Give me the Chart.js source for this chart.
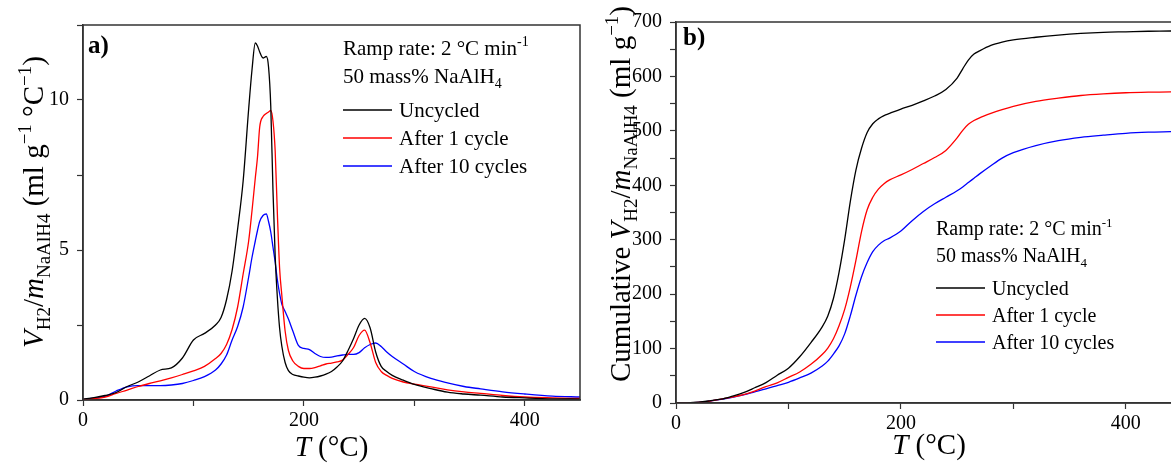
<!DOCTYPE html>
<html>
<head>
<meta charset="utf-8">
<script src="https://cdn.jsdelivr.net/npm/chart.js@4"></script>
<style>
  html, body { margin: 0; padding: 0; background: #fff; overflow: hidden; width: 1171px; height: 463px; }
  canvas { position: absolute; top: 0; }
</style>
</head>
<body>
<canvas id="rate" width="590" height="463" style="left:0"></canvas>
<canvas id="cumulative" width="600" height="463" style="left:590px"></canvas>
<script>
// series names and colours
var seriesLabels = ['Uncycled', 'After 1 cycle', 'After 10 cycles'];
var seriesColors = ['#000000', '#ff0000', '#0000ff'];

// a) desorption rate, ml g-1 °C-1
var tempRate = [0,10,20,30,40,50,60,70,80,90,100,110,120,125,130,135,140,145,150,153,156,158,160,163,166,168,170,172,174,176,178,180,183,186,190,195,200,205,210,215,220,225,230,235,240,245,250,255,260,265,270,275,280,290,300,315,330,345,360,380,400,425,450];
var uncycledRate = [0.03,0.08,0.15,0.25,0.45,0.6,0.8,1.0,1.07,1.4,2.0,2.22,2.5,2.75,3.35,4.3,5.7,7.3,9.7,11.0,11.9,11.8,11.6,11.4,11.45,11.1,9.8,7.0,4.8,3.4,2.4,1.8,1.25,0.98,0.85,0.8,0.76,0.74,0.76,0.8,0.86,0.95,1.1,1.3,1.65,2.05,2.5,2.72,2.4,1.6,1.12,0.95,0.82,0.66,0.52,0.38,0.26,0.2,0.16,0.1,0.07,0.04,0.03];
var cycle1Rate = [0.02,0.05,0.1,0.22,0.33,0.45,0.55,0.64,0.74,0.85,0.97,1.12,1.38,1.55,1.85,2.35,3.1,4.2,5.3,6.3,7.4,8.1,9.1,9.45,9.55,9.6,9.65,9.3,8.3,6.2,4.4,3.5,2.3,1.65,1.3,1.12,1.05,1.05,1.08,1.14,1.2,1.23,1.27,1.33,1.52,1.75,2.15,2.33,1.9,1.25,0.95,0.82,0.72,0.6,0.53,0.44,0.34,0.27,0.22,0.15,0.1,0.07,0.05];
var cycle10Rate = [0.02,0.06,0.12,0.3,0.44,0.48,0.48,0.48,0.5,0.55,0.65,0.78,1.0,1.2,1.5,2.0,2.45,3.1,4.1,4.75,5.3,5.65,5.95,6.15,6.2,5.95,5.6,5.1,4.6,4.0,3.55,3.2,2.95,2.7,2.3,1.82,1.72,1.68,1.55,1.45,1.42,1.43,1.47,1.5,1.52,1.52,1.58,1.74,1.85,1.9,1.78,1.6,1.45,1.2,0.95,0.72,0.57,0.45,0.37,0.27,0.2,0.13,0.1];

// b) cumulative hydrogen, ml g-1
var tempCum = [0,10,20,30,40,50,60,70,80,90,100,110,120,130,135,140,145,150,155,160,165,170,175,180,185,190,200,210,220,230,240,250,255,260,265,270,280,290,300,320,340,360,380,400,420,440,450];
var uncycledCum = [0,0.3,1.5,4,7,12.5,19,28,37.5,51,64,85,111,140,160,192,240,300,370,428,468,497,513,522,528,532,540,547,555,564,576,597,614,630,641,647,657,663,667,672,676,679,681,682,683,683.5,684];
var cycle1Cum = [0,0.3,1.3,3.5,7,11,15.5,22,30,37,47,57,71,89,101,118,142,172,213,262,315,355,378,393,403,410,419,429,440,451,464,487,501,512,519,524,532,539,545,554,560,565,568,570,571,571.5,572];
var cycle10Cum = [0,0.3,1.3,3.5,6.5,10.5,15,20.5,26,32,38,46,55,68,77,90,105,127,160,198,232,258,278,290,298,303,316,335,352,366,378,390,397,405,413,421,436,450,460,473,482,488,492,495.5,497.5,498.5,499];

var FONT = '"Liberation Serif", "Times New Roman", serif';

function points(xs, ys) {
  return xs.map(function(x, i) { return {x: x, y: ys[i]}; });
}

function makeDatasets(xs, list) {
  return list.map(function(ys, i) {
    return {
      label: seriesLabels[i],
      data: points(xs, ys),
      borderColor: seriesColors[i],
      backgroundColor: seriesColors[i],
      borderWidth: 1.3,
      pointRadius: 0,
      cubicInterpolationMode: 'monotone',
      fill: false
    };
  });
}

// draws text made of parts: [text, kind] with kind n / i / sub / sup / b
function drawRich(ctx, parts, x, y, size, rotate, center) {
  ctx.save();
  ctx.translate(x, y);
  if (rotate) ctx.rotate(-Math.PI / 2);
  var specs = parts.map(function(p) {
    var k = p[1];
    var small = (k === 'sub' || k === 'sup');
    var fs = small ? Math.round(size * 0.66) : size;
    var style = k === 'i' ? 'italic ' : (k === 'b' ? 'bold ' : '');
    var font = style + fs + 'px ' + FONT;
    ctx.font = font;
    return {t: p[0], font: font, w: ctx.measureText(p[0]).width,
            dy: k === 'sub' ? size * 0.24 : (k === 'sup' ? -size * 0.42 : 0)};
  });
  var total = specs.reduce(function(s, p) { return s + p.w; }, 0);
  var cx = center ? -total / 2 : 0;
  ctx.fillStyle = '#000';
  ctx.textAlign = 'left';
  ctx.textBaseline = 'alphabetic';
  specs.forEach(function(p) { ctx.font = p.font; ctx.fillText(p.t, cx, p.dy); cx += p.w; });
  ctx.restore();
}

function decor(cfg) {
  return {
    id: 'decor',
    afterDraw: function(chart) {
      var ctx = chart.ctx, a = chart.chartArea;
      ctx.save();
      ctx.strokeStyle = '#333';
      ctx.lineWidth = 1.5;
      ctx.strokeRect(a.left, a.top, a.right - a.left, a.bottom - a.top);
      ctx.restore();

      drawRich(ctx, [[cfg.tag, 'b']], a.left + cfg.tagX, a.top + cfg.tagY, 25, false, false);

      var nx = a.left + cfg.noteX;
      drawRich(ctx, [['Ramp rate: 2 °C min', 'n'], ['-1', 'sup']], nx, cfg.noteY, cfg.noteSize, false, false);
      drawRich(ctx, [['50 mass% NaAlH', 'n'], ['4', 'sub']], nx, cfg.noteY + cfg.noteGap, cfg.noteSize, false, false);
      chart.data.datasets.forEach(function(ds, i) {
        var ly = cfg.legendY + i * cfg.legendGap;
        ctx.save();
        ctx.strokeStyle = ds.borderColor;
        ctx.lineWidth = 1.5;
        ctx.beginPath();
        ctx.moveTo(nx, ly);
        ctx.lineTo(nx + 49, ly);
        ctx.stroke();
        ctx.restore();
        drawRich(ctx, [[ds.label, 'n']], nx + 56, ly + 7, cfg.noteSize, false, false);
      });

      drawRich(ctx, [['T', 'i'], [' (°C)', 'n']], (a.left + cfg.xTitleRight) / 2, cfg.xTitleY, 29, false, true);
      drawRich(ctx, cfg.yTitle, cfg.yTitleX, cfg.yTitleY, 29, true, true);
    }
  };
}

function axis(max, step, every, isX, size, pad) {
  return {
    type: 'linear', min: 0, max: max,
    afterFit: function(s) { if (isX) s.height = size; else s.width = size; },
    border: { display: true, color: '#333', width: 1.5 },
    grid: { drawOnChartArea: false, drawTicks: true, tickLength: 6, color: '#333', tickWidth: 1.2 },
    ticks: {
      stepSize: step, autoSkip: false, includeBounds: false, maxRotation: 0, padding: pad, color: '#000',
      font: { family: FONT, size: 20 },
      callback: function(v) { return v % every === 0 ? v : ''; }
    }
  };
}

function makeChart(id, xs, list, ymax, ystep, yevery, layoutPad, xh, yw, deco) {
  return new Chart(document.getElementById(id), {
    type: 'line',
    data: { datasets: makeDatasets(xs, list) },
    options: {
      responsive: false,
      animation: false,
      layout: { padding: layoutPad },
      plugins: { legend: { display: false }, tooltip: { enabled: false } },
      scales: {
        x: axis(450, 100, 200, true, xh, 3),
        y: axis(ymax, ystep, yevery, false, yw, 8)
      }
    },
    plugins: [deco]
  });
}

makeChart('rate', tempRate, [uncycledRate, cycle1Rate, cycle10Rate], 12.5, 2.5, 5,
  { top: 25, right: 10, left: 0, bottom: 0 }, 63, 83,
  decor({
    tag: 'a)', tagX: 5, tagY: 28,
    noteX: 260, noteY: 55, noteGap: 28, noteSize: 21,
    legendY: 110, legendGap: 28,
    xTitleRight: 580, xTitleY: 456,
    yTitleX: 43, yTitleY: 202,
    yTitle: [['V', 'i'], ['H2', 'sub'], ['/', 'n'], ['m', 'i'], ['NaAlH4', 'sub'],
             [' (ml g', 'n'], ['−1', 'sup'], [' °C', 'n'], ['−1', 'sup'], [')', 'n']]
  }));

makeChart('cumulative', tempCum, [uncycledCum, cycle1Cum, cycle10Cum], 700, 50, 100,
  { top: 22, right: 8, left: 0, bottom: 0 }, 60, 86,
  decor({
    tag: 'b)', tagX: 7, tagY: 23,
    noteX: 260, noteY: 235, noteGap: 27, noteSize: 20,
    legendY: 288, legendGap: 27,
    xTitleRight: 592, xTitleY: 454,
    yTitleX: 40, yTitleY: 194,
    yTitle: [['Cumulative ', 'n'], ['V', 'i'], ['H2', 'sub'], ['/', 'n'], ['m', 'i'], ['NaAlH4', 'sub'],
             [' (ml g', 'n'], ['−1', 'sup'], [')', 'n']]
  }));
</script>
</body>
</html>
